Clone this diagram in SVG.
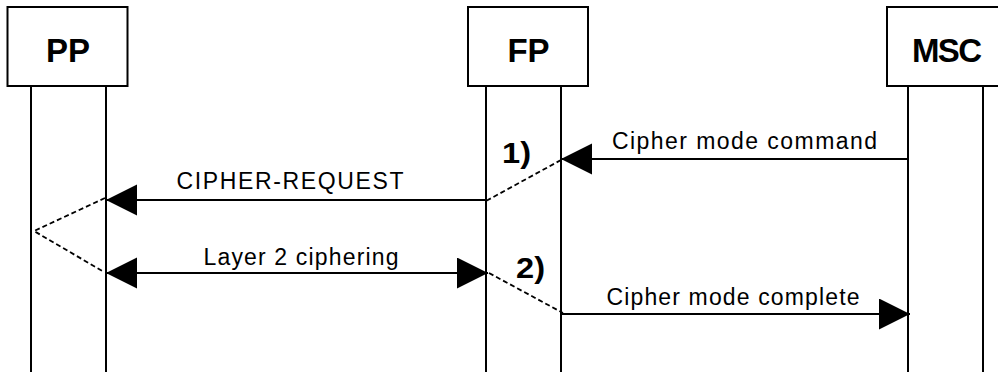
<svg xmlns="http://www.w3.org/2000/svg" width="998" height="372" viewBox="0 0 998 372">
<style>
.box{fill:#fff;stroke:#000;stroke-width:2}
.life{stroke:#000;stroke-width:2;fill:none}
.title{font-family:"Liberation Sans",Arial,sans-serif;font-weight:bold;font-size:33px;text-anchor:middle;fill:#000}
.lbl{font-family:"Liberation Sans",Arial,sans-serif;font-size:23px;fill:#000}
.num{font-family:"Liberation Sans",Arial,sans-serif;font-weight:bold;font-size:29px;fill:#000}
.msg{stroke:#000;stroke-width:2;fill:none}
.dash{stroke:#000;stroke-width:1.8;fill:none;stroke-dasharray:5 3}
</style>
<defs>
<marker id="head" markerUnits="userSpaceOnUse" markerWidth="32" markerHeight="32" refX="31" refY="15.5" orient="auto-start-reverse" viewBox="0 0 32 32">
<path d="M0,0 L31,15.5 L0,31 Z" fill="#000"/>
</marker>
</defs>
<g id="PP">
<rect class="box" x="7.5" y="7" width="120" height="79"/>
<text class="title" x="68" y="62">PP</text>
<line class="life" x1="31" y1="86" x2="31" y2="372"/>
<line class="life" x1="106" y1="86" x2="106" y2="372"/>
</g>
<g id="FP">
<rect class="box" x="468" y="7" width="120" height="79"/>
<text class="title" x="528.5" y="62">FP</text>
<line class="life" x1="486" y1="86" x2="486" y2="372"/>
<line class="life" x1="561" y1="86" x2="561" y2="372"/>
</g>
<g id="MSC">
<rect class="box" x="887" y="7" width="120" height="79"/>
<text class="title" x="947" y="62" textLength="70" lengthAdjust="spacing">MSC</text>
<line class="life" x1="908" y1="86" x2="908" y2="372"/>
<line class="life" x1="983" y1="86" x2="983" y2="372"/>
</g>
<g id="connectors">
<line class="msg" x1="908" y1="159" x2="561" y2="159" marker-end="url(#head)"/>
<line class="msg" x1="486" y1="200" x2="106" y2="200" marker-end="url(#head)"/>
<line class="msg" x1="106" y1="273" x2="488" y2="273" marker-start="url(#head)" marker-end="url(#head)"/>
<line class="msg" x1="561" y1="314" x2="910" y2="314" marker-end="url(#head)"/>
<polyline class="dash" points="561,160 486,201"/>
<polyline class="dash" points="105,198 34,231 104,272"/>
<polyline class="dash" points="489,273 563,313"/>
</g>
<g id="labels">
<text class="lbl" x="612" y="148.5" textLength="265" lengthAdjust="spacing">Cipher mode command</text>
<text class="lbl" x="176.5" y="188.5" textLength="227" lengthAdjust="spacing">CIPHER-REQUEST</text>
<text class="lbl" x="203.5" y="264.5" textLength="195" lengthAdjust="spacing">Layer 2 ciphering</text>
<text class="lbl" x="606.5" y="305" textLength="253" lengthAdjust="spacing">Cipher mode complete</text>
<text class="num" x="502" y="163" textLength="29" lengthAdjust="spacingAndGlyphs">1)</text>
<text class="num" x="516" y="278" textLength="29" lengthAdjust="spacingAndGlyphs">2)</text>
</g>
</svg>
